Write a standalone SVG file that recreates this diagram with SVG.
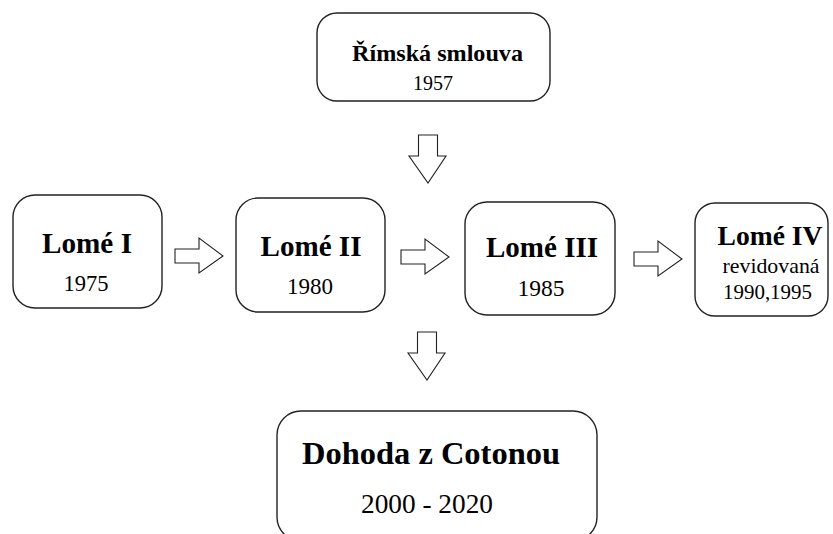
<svg xmlns="http://www.w3.org/2000/svg" width="833" height="534" viewBox="0 0 833 534">
<style>
.box{fill:#fff;stroke:#222;stroke-width:1.4}
.arr{fill:#fff;stroke:#222;stroke-width:1.1;stroke-linejoin:miter}
text{font-family:"Liberation Serif","Times New Roman",serif;fill:#000;text-anchor:middle}
.b{font-weight:bold}
</style>
<defs>
<path id="ra" d="M0,-7 H24 V-18 L48,0 L24,17 V7 H0 Z"/>
<path id="da" d="M-9.5,0 V21 H-19 L0,48 L18,21 H9.5 V0 Z"/>
</defs>
<rect width="833" height="534" fill="#fff"/>
<g id="connectors">
<use href="#da" class="arr" transform="translate(428,135)"/>
<use href="#ra" class="arr" transform="translate(175,256)"/>
<use href="#ra" class="arr" transform="translate(401,257)"/>
<use href="#ra" class="arr" transform="translate(634,259)"/>
<use href="#da" class="arr" transform="translate(427,332)"/>
</g>
<g id="rimska">
<rect class="box" x="317" y="13" width="233" height="88" rx="20"/>
<text class="b" x="437.5" y="60.5" font-size="23.5" textLength="171" lengthAdjust="spacingAndGlyphs">Římská smlouva</text>
<text x="433" y="90" font-size="20.5" textLength="40" lengthAdjust="spacingAndGlyphs">1957</text>
</g>
<g id="lome1">
<rect class="box" x="13" y="195" width="149" height="113" rx="22"/>
<text class="b" x="87" y="253" font-size="29" textLength="90" lengthAdjust="spacingAndGlyphs">Lomé I</text>
<text x="86" y="291" font-size="22.5" textLength="45" lengthAdjust="spacingAndGlyphs">1975</text>
</g>
<g id="lome2">
<rect class="box" x="236" y="198" width="149" height="114" rx="22"/>
<text class="b" x="311" y="256" font-size="29" textLength="101" lengthAdjust="spacingAndGlyphs">Lomé II</text>
<text x="310" y="294" font-size="23" textLength="46" lengthAdjust="spacingAndGlyphs">1980</text>
</g>
<g id="lome3">
<rect class="box" x="465" y="202" width="150" height="113" rx="22"/>
<text class="b" x="542" y="257" font-size="29" textLength="112" lengthAdjust="spacingAndGlyphs">Lomé III</text>
<text x="541" y="296" font-size="23" textLength="47" lengthAdjust="spacingAndGlyphs">1985</text>
</g>
<g id="lome4">
<rect class="box" x="695" y="203" width="133" height="113" rx="20"/>
<text class="b" x="770" y="245" font-size="27.5" textLength="105" lengthAdjust="spacingAndGlyphs">Lomé IV</text>
<text x="771" y="273" font-size="21.8" textLength="97" lengthAdjust="spacingAndGlyphs">revidovaná</text>
<text x="767.5" y="299" font-size="21" textLength="89" lengthAdjust="spacingAndGlyphs">1990,1995</text>
</g>
<g id="cotonou">
<rect class="box" x="277" y="411" width="320" height="130" rx="24"/>
<text class="b" x="431" y="464" font-size="32.5" textLength="258" lengthAdjust="spacingAndGlyphs">Dohoda z Cotonou</text>
<text x="427" y="513" font-size="27" textLength="132" lengthAdjust="spacingAndGlyphs">2000 - 2020</text>
</g>
</svg>
